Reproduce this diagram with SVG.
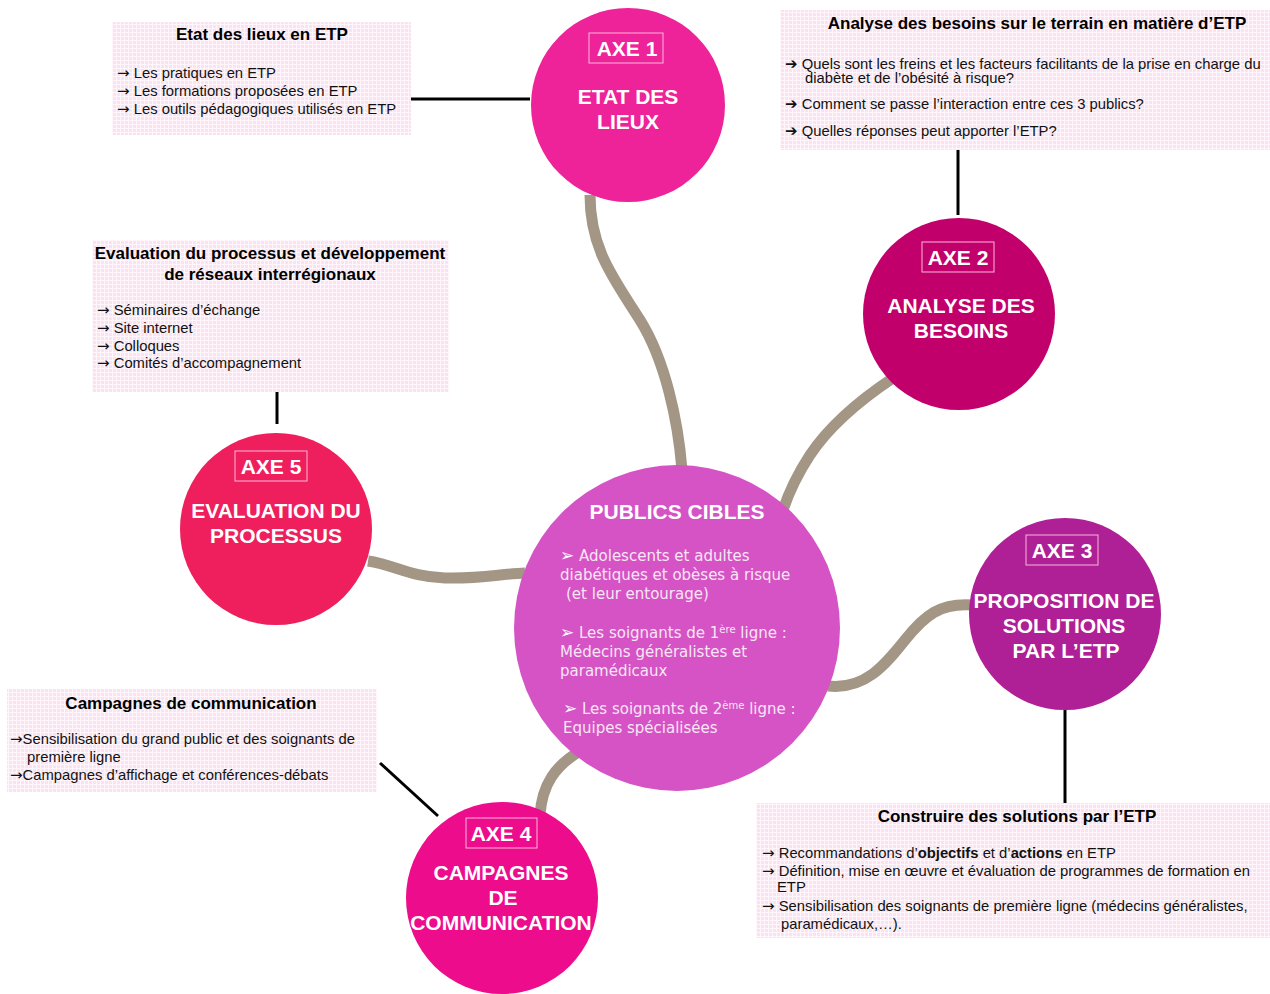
<svg xmlns="http://www.w3.org/2000/svg" width="1270" height="994" viewBox="0 0 1270 994">
<defs>
<pattern id="grid" width="4" height="4" patternUnits="userSpaceOnUse">
<rect width="4" height="4" fill="#FAE3F0"/>
<path d="M0 0.5H4M0.5 0V4" stroke="#FFF6FB" stroke-width="1"/>
</pattern>
<style>
.box{fill:url(#grid)}
.bt{font-family:"Liberation Sans",Arial,sans-serif;font-size:17px;font-weight:bold;fill:#000;text-anchor:middle}
.bi{font-family:"Liberation Sans",Arial,sans-serif;font-size:14.8px;fill:#111}
.ar{font-family:"DejaVu Sans",sans-serif;font-size:15px}
.ax{font-family:"Liberation Sans",Arial,sans-serif;font-size:21px;font-weight:bold;fill:#fff;text-anchor:middle}
.axb{fill:none;stroke:#F9B8DC;stroke-width:1}
.ct{font-family:"DejaVu Sans",Verdana,sans-serif;font-size:15px;fill:#F8E6F4}
.bul{font-size:17px;fill:#fff}
.road{fill:none;stroke:#A39684;stroke-width:11;stroke-linecap:butt}
.link{fill:none;stroke:#000;stroke-width:3}
</style>
</defs>
<rect width="1270" height="994" fill="#fff"/>

<g id="connectors">
<path class="road" d="M590,195 C590,250 615,280 640,320 C665,360 678,420 682,470"/>
<path class="road" d="M893,378 C860,400 830,425 810,455 C795,478 788,495 783,510"/>
<path class="road" d="M972,605 C940,603 925,615 905,640 C885,665 865,690 828,686"/>
<path class="road" d="M540,815 C542,785 555,765 582,750"/>
<path class="road" d="M368,561 C395,565 410,577 445,578 C480,579 500,574 525,573"/>
<path class="link" d="M407,99 H530"/>
<path class="link" d="M958,148 V215"/>
<path class="link" d="M1065,705 V803"/>
<path class="link" d="M380,763 L438,816"/>
<path class="link" d="M277,392 V424"/>
</g>

<g id="box-axe1">
<rect class="box" x="112" y="22" width="299" height="113"/>
<text class="bt" x="262" y="40">Etat des lieux en ETP</text>
<text class="bi" x="117" y="78"><tspan class="ar">→</tspan> Les pratiques en ETP</text>
<text class="bi" x="117" y="96"><tspan class="ar">→</tspan> Les formations proposées en ETP</text>
<text class="bi" x="117" y="114"><tspan class="ar">→</tspan> Les outils pédagogiques utilisés en ETP</text>
</g>

<g id="box-axe2">
<rect class="box" x="780" y="10" width="490" height="140"/>
<text class="bt" x="1037" y="29">Analyse des besoins sur le terrain en matière d’ETP</text>
<text class="bi" x="785" y="69"><tspan class="ar">➔</tspan> Quels sont les freins et les facteurs facilitants de la prise en charge du</text>
<text class="bi" x="805" y="83">diabète et de l’obésité à risque?</text>
<text class="bi" x="785" y="109"><tspan class="ar">➔</tspan> Comment se passe l’interaction entre ces 3 publics?</text>
<text class="bi" x="785" y="136"><tspan class="ar">➔</tspan> Quelles réponses peut apporter l’ETP?</text>
</g>

<g id="box-axe5">
<rect class="box" x="92" y="240" width="357" height="152"/>
<text class="bt" x="270" y="259">Evaluation du processus et développement</text>
<text class="bt" x="270" y="280">de réseaux interrégionaux</text>
<text class="bi" x="97" y="315"><tspan class="ar">→</tspan> Séminaires d’échange</text>
<text class="bi" x="97" y="333"><tspan class="ar">→</tspan> Site internet</text>
<text class="bi" x="97" y="351"><tspan class="ar">→</tspan> Colloques</text>
<text class="bi" x="97" y="368"><tspan class="ar">→</tspan> Comités d’accompagnement</text>
</g>

<g id="box-axe4">
<rect class="box" x="7" y="689" width="370" height="103"/>
<text class="bt" x="191" y="709">Campagnes de communication</text>
<text class="bi" x="10" y="744"><tspan class="ar">→</tspan>Sensibilisation du grand public et des soignants de</text>
<text class="bi" x="27" y="762">première ligne</text>
<text class="bi" x="10" y="780"><tspan class="ar">→</tspan>Campagnes d’affichage et conférences-débats</text>
</g>

<g id="box-axe3">
<rect class="box" x="756" y="803" width="514" height="135"/>
<text class="bt" x="1017" y="822">Construire des solutions par l’ETP</text>
<text class="bi" x="762" y="858"><tspan class="ar">→</tspan> Recommandations d’<tspan font-weight="bold">objectifs</tspan> et d’<tspan font-weight="bold">actions</tspan> en ETP</text>
<text class="bi" x="762" y="876"><tspan class="ar">→</tspan> Définition, mise en œuvre et évaluation de programmes de formation en</text>
<text class="bi" x="777" y="892">ETP</text>
<text class="bi" x="762" y="911"><tspan class="ar">→</tspan> Sensibilisation des soignants de première ligne (médecins généralistes,</text>
<text class="bi" x="781" y="929">paramédicaux,…).</text>
</g>

<g id="axe1">
<circle cx="628" cy="105" r="97" fill="#EE2399"/>
<rect class="axb" x="589" y="33" width="74" height="30"/>
<text class="ax" x="627" y="56">AXE 1</text>
<text class="ax" x="628" y="104">ETAT DES</text>
<text class="ax" x="628" y="129">LIEUX</text>
</g>

<g id="axe2">
<circle cx="959" cy="314" r="96" fill="#C2006B"/>
<rect class="axb" x="922" y="242" width="72" height="30"/>
<text class="ax" x="958" y="265">AXE 2</text>
<text class="ax" x="961" y="313">ANALYSE DES</text>
<text class="ax" x="961" y="338">BESOINS</text>
</g>

<g id="axe3">
<circle cx="1065" cy="614" r="96" fill="#AF1F96"/>
<rect class="axb" x="1026" y="535" width="72" height="30"/>
<text class="ax" x="1062" y="558">AXE 3</text>
<text class="ax" x="1064" y="608">PROPOSITION DE</text>
<text class="ax" x="1064" y="633">SOLUTIONS</text>
<text class="ax" x="1066" y="658">PAR L’ETP</text>
</g>

<g id="axe4">
<circle cx="502" cy="898" r="96" fill="#EC0C8C"/>
<rect class="axb" x="466" y="818" width="71" height="30"/>
<text class="ax" x="501" y="841">AXE 4</text>
<text class="ax" x="501" y="880">CAMPAGNES</text>
<text class="ax" x="503" y="905">DE</text>
<text class="ax" x="501" y="930" font-size="22">COMMUNICATION</text>
</g>

<g id="axe5">
<circle cx="276" cy="529" r="96" fill="#EE1F5C"/>
<rect class="axb" x="235" y="451" width="72" height="30"/>
<text class="ax" x="271" y="474">AXE 5</text>
<text class="ax" x="276" y="518">EVALUATION DU</text>
<text class="ax" x="276" y="543">PROCESSUS</text>
</g>

<g id="publics-cibles">
<circle cx="677" cy="628" r="163" fill="#D553C5"/>
<text class="ax" x="677" y="519">PUBLICS CIBLES</text>
<text class="ct" x="560" y="561"><tspan class="bul">➢</tspan> Adolescents et adultes</text>
<text class="ct" x="560" y="580">diabétiques et obèses à risque</text>
<text class="ct" x="566" y="599">(et leur entourage)</text>
<text class="ct" x="560" y="638"><tspan class="bul">➢</tspan> Les soignants de 1<tspan font-size="10" dy="-5">ère</tspan><tspan dy="5"> ligne :</tspan></text>
<text class="ct" x="560" y="657">Médecins généralistes et</text>
<text class="ct" x="560" y="676">paramédicaux</text>
<text class="ct" x="563" y="714"><tspan class="bul">➢</tspan> Les soignants de 2<tspan font-size="10" dy="-5">ème</tspan><tspan dy="5"> ligne :</tspan></text>
<text class="ct" x="563" y="733">Equipes spécialisées</text>
</g>
</svg>
